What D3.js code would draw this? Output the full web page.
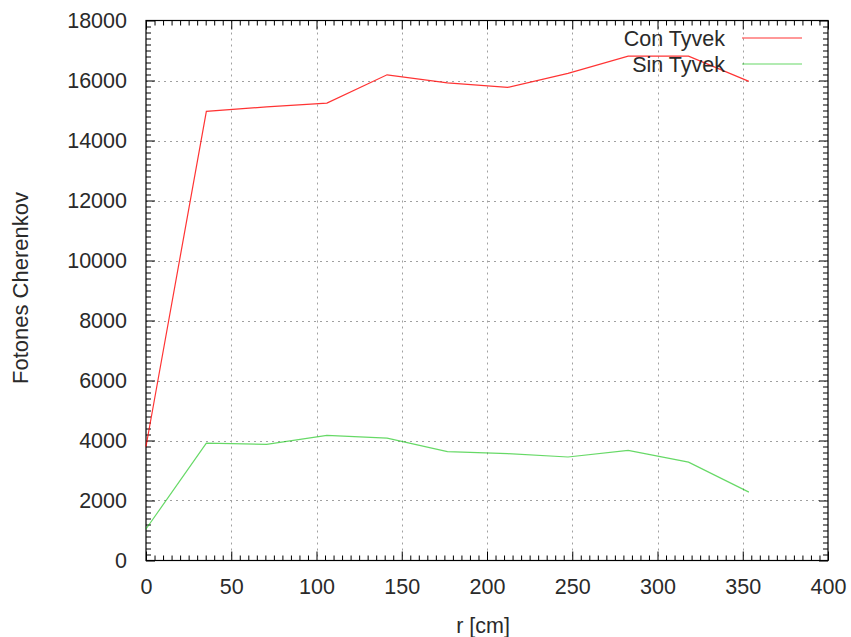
<!DOCTYPE html>
<html>
<head>
<meta charset="utf-8">
<script src="https://cdn.jsdelivr.net/npm/d3@7"></script>
<style>
  body { margin: 0; background: #fff; }
  svg { display: block; font-family: "Liberation Sans", Arial, sans-serif; }
</style>
</head>
<body>
<svg id="chart" width="851" height="637"></svg>
<script>
// Radial positions (cm) and photon counts for both configurations
const radius = [0, 35.4, 70.7, 106.1, 141.4, 176.8, 212.1, 247.5, 282.8, 318.2, 353.6];
const conTyvek = [3800, 14970, 15120, 15245, 16190, 15920, 15770, 16240, 16810, 16810, 15970];
const sinTyvek = [1050, 3910, 3870, 4170, 4080, 3630, 3560, 3450, 3670, 3280, 2280];
const seriesNames = ["Con Tyvek", "Sin Tyvek"];
const seriesColors = ["#ff0000", "#00c000"];
const seriesOpacity = [0.8, 0.6];
const xTicks = [0, 50, 100, 150, 200, 250, 300, 350, 400];
const yTicks = [0, 2000, 4000, 6000, 8000, 10000, 12000, 14000, 16000, 18000];

const svg = d3.select("#chart");
const plotL = 146, plotR = 828, plotT = 20.5, plotB = 560.5;
const fontSize = 21.5, textColor = "#2a2a2a";

const x = d3.scaleLinear().domain([0, 400]).range([plotL, plotR]);
const y = d3.scaleLinear().domain([0, 18000]).range([plotB, plotT]);

// Dotted grid at major ticks
const grid = svg.append("g").attr("stroke", "#a0a0a0").attr("stroke-width", 1)
  .attr("stroke-dasharray", "2,4");
xTicks.slice(1, -1).forEach(t => {
  grid.append("line").attr("x1", Math.round(x(t)) + 0.5).attr("x2", Math.round(x(t)) + 0.5)
    .attr("y1", plotT).attr("y2", plotB);
});
yTicks.slice(1, -1).forEach(t => {
  grid.append("line").attr("y1", Math.round(y(t)) + 0.5).attr("y2", Math.round(y(t)) + 0.5)
    .attr("x1", plotL).attr("x2", plotR);
});

// Axes: inward ticks, mirrored on all four sides, with minor ticks
function drawAxis(axis, transform) {
  const g = svg.append("g").attr("transform", transform).call(axis);
  g.select(".domain").remove();
  g.selectAll("line").attr("stroke", "#000");
  g.selectAll("text").attr("font-size", fontSize).attr("fill", textColor)
    .attr("font-family", "Liberation Sans, Arial, sans-serif");
  return g;
}
const majorLen = 9, minorLen = 5;
const xMinor = d3.range(0, 401, 5).filter(v => v % 50 !== 0);
const yMinor = d3.range(0, 18001, 200).filter(v => v % 2000 !== 0);
const fmt = d3.format("d");

// bottom
drawAxis(d3.axisBottom(x).tickValues(xTicks).tickSize(-majorLen).tickPadding(18).tickFormat(fmt), `translate(0,${plotB})`);
drawAxis(d3.axisBottom(x).tickValues(xMinor).tickSize(-minorLen).tickFormat(""), `translate(0,${plotB})`);
// top
drawAxis(d3.axisTop(x).tickValues(xTicks).tickSize(-majorLen).tickFormat(""), `translate(0,${plotT})`);
drawAxis(d3.axisTop(x).tickValues(xMinor).tickSize(-minorLen).tickFormat(""), `translate(0,${plotT})`);
// left
drawAxis(d3.axisLeft(y).tickValues(yTicks).tickSize(-majorLen).tickPadding(19).tickFormat(fmt), `translate(${plotL},0)`);
drawAxis(d3.axisLeft(y).tickValues(yMinor).tickSize(-minorLen).tickFormat(""), `translate(${plotL},0)`);
// right
drawAxis(d3.axisRight(y).tickValues(yTicks).tickSize(-majorLen).tickFormat(""), `translate(${plotR},0)`);
drawAxis(d3.axisRight(y).tickValues(yMinor).tickSize(-minorLen).tickFormat(""), `translate(${plotR},0)`);

// Frame
svg.append("rect").attr("x", plotL).attr("y", plotT).attr("width", plotR - plotL).attr("height", plotB - plotT)
  .attr("fill", "none").attr("stroke", "#000").attr("stroke-width", 1.2);

// Data lines
const line = d3.line().x((d, i) => x(radius[i])).y(d => y(d));
[conTyvek, sinTyvek].forEach((vals, k) => {
  svg.append("path").datum(vals).attr("d", line).attr("fill", "none")
    .attr("stroke", seriesColors[k]).attr("stroke-width", 1.2).attr("opacity", seriesOpacity[k]);
});

// Legend
const legendY = [38, 64];
seriesNames.forEach((name, k) => {
  svg.append("text").attr("x", 725).attr("y", legendY[k]).attr("dy", "0.35em")
    .attr("text-anchor", "end").attr("font-size", fontSize).attr("fill", textColor).text(name);
  svg.append("line").attr("x1", 742).attr("x2", 802).attr("y1", legendY[k]).attr("y2", legendY[k])
    .attr("stroke", seriesColors[k]).attr("stroke-width", 1.2).attr("opacity", seriesOpacity[k]);
});

// Axis titles
svg.append("text").attr("x", 483).attr("y", 625).attr("dy", "0.35em")
  .attr("text-anchor", "middle").attr("font-size", fontSize).attr("fill", textColor).text("r [cm]");
svg.append("text").attr("transform", "translate(20,288) rotate(-90)").attr("dy", "0.35em")
  .attr("text-anchor", "middle").attr("font-size", 22).attr("fill", textColor).text("Fotones Cherenkov");
</script>
</body>
</html>
